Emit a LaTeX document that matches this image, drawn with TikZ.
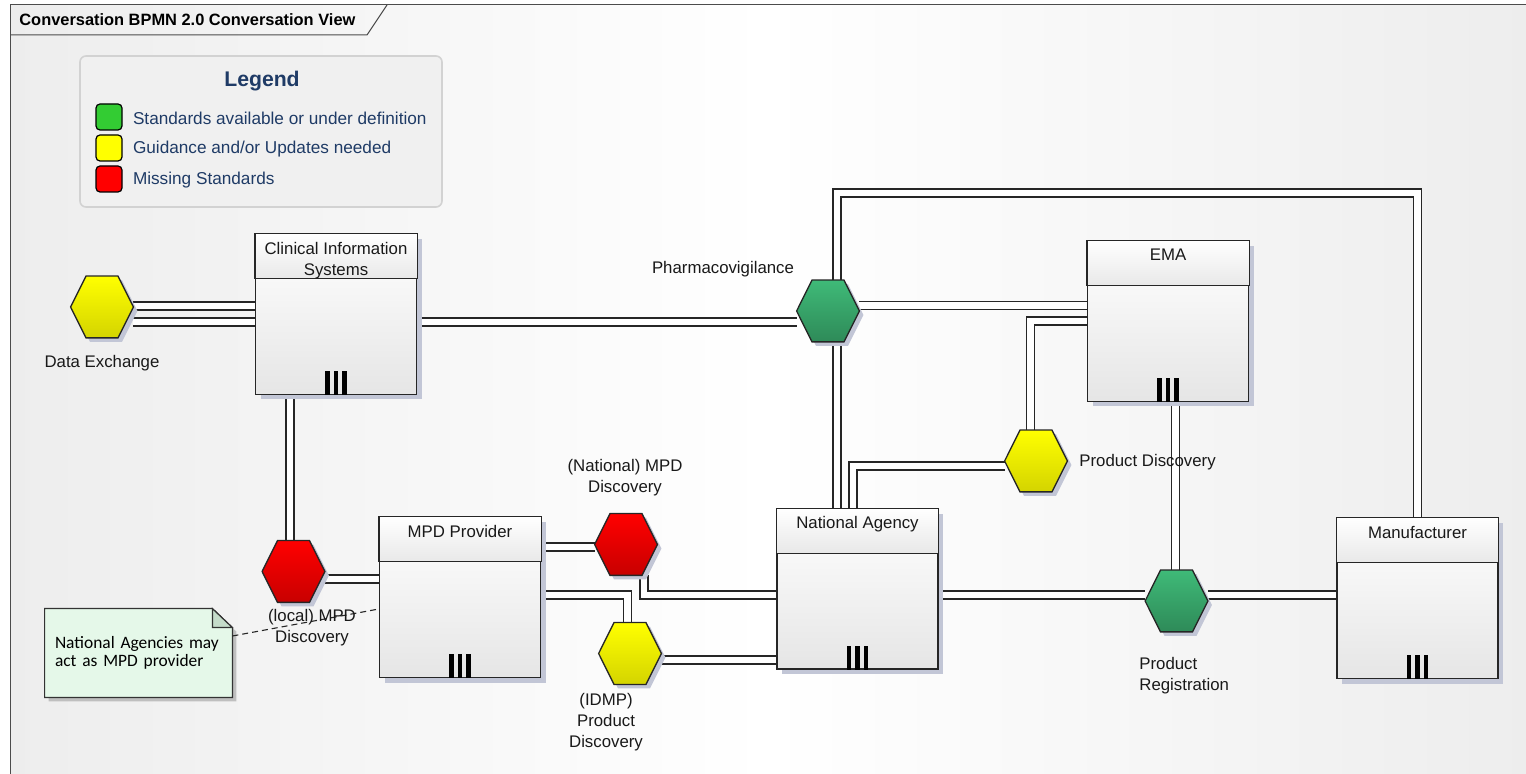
\documentclass[tikz,border=0pt]{standalone}
\usepackage{fontspec}
\setmainfont{Liberation Sans}
\newfontfamily\notefont{Carlito}
\usetikzlibrary{calc}
\usetikzlibrary{shadows}
\usetikzlibrary{backgrounds}

\definecolor{keygreen}{HTML}{33CC33}
\definecolor{keyyellow}{HTML}{FFFF00}
\definecolor{keyred}{HTML}{FF0000}
\definecolor{hexgreen}{HTML}{3FBA78}
\definecolor{hexgreendk}{HTML}{2E8A58}
\definecolor{hexyellow}{HTML}{FFFF00}
\definecolor{hexyellowdk}{HTML}{D4D400}
\definecolor{hexred}{HTML}{FF0000}
\definecolor{hexreddk}{HTML}{C80000}
\definecolor{legendfill}{HTML}{F0F0F0}
\definecolor{legendline}{HTML}{D2D2D2}
\definecolor{legendtext}{HTML}{1F3B66}
\definecolor{shadowcol}{HTML}{C2C6D6}
\definecolor{notefill}{HTML}{E5F8E9}
\definecolor{notefold}{HTML}{C5DCCA}

\tikzset{
  lbl/.style={font=\fontsize{8.4}{10.5}\selectfont, inner sep=0pt, align=center, text=black!90},
  conv/.style={draw=black!85, line width=0.65pt, double=white, double distance=3.3pt},
  pool/.style={draw=black!85, line width=0.65pt, minimum width=80.5pt, minimum height=80pt,
    inner sep=0pt, top color=white, bottom color=black!10,
    drop shadow={shadow xshift=2.5pt, shadow yshift=-2.5pt, fill=shadowcol, opacity=1}},
  poolhead/.style={draw=black!85, line width=0.65pt, top color=white, bottom color=black!9},
  hexbox/.style={minimum width=31pt, minimum height=30.5pt, inner sep=0pt},
  hexline/.style={draw=black!85, line width=0.65pt,
    drop shadow={shadow xshift=2pt, shadow yshift=-2pt, fill=shadowcol, opacity=1}},
  legendbox/.style={draw=legendline, fill=legendfill, line width=0.8pt, rounded corners=3pt,
    minimum width=181pt, minimum height=75.5pt},
  swatch/.style={draw=black, line width=0.6pt, rounded corners=2pt, minimum size=13pt, inner sep=0pt},
  legendlbl/.style={font=\fontsize{8.6}{10.5}\selectfont, text=legendtext, inner sep=0pt, anchor=west},
  notebox/.style={font=\notefont\fontsize{8.7}{9.2}\selectfont, text width=83.5pt, align=left,
    inner sep=5pt, minimum height=44pt},
  noteline/.style={draw=black!80, line width=0.6pt, fill=notefill,
    drop shadow={shadow xshift=2pt, shadow yshift=-2pt, fill=black!25, opacity=1}},
  notelink/.style={draw=black!85, line width=0.55pt, dash pattern=on 3pt off 2pt},
  frameline/.style={draw=black!70, line width=0.5pt},
}

% pool with header, name / centre / title
\newcommand{\poolbox}[3]{%
  \node[pool] (#1) at (#2) {};
  \draw[poolhead] (#1.north west) rectangle ($(#1.north east)+(0,45)$);
  \node[lbl, anchor=north] at ($(#1.north)+(0,8)$) {#3};
  \foreach \bx in {-8.5,0,8.5}
    \fill[black] ($(#1.south)+(\bx-2.25,0)$) rectangle ($(#1.south)+(\bx+2.25,-24)$);
}

% conversation hexagon, name / centre / top colour / bottom colour
\newcommand{\convnode}[4]{%
  \node[hexbox] (#1) at (#2) {};
  \draw[hexline, top color=#3, bottom color=#4]
    (#1.west) -- ($(#1.north)+(-16,0)$) -- ($(#1.north)+(16,0)$) -- (#1.east)
    -- ($(#1.south)+(16,0)$) -- ($(#1.south)+(-16,0)$) -- cycle;
}

\begin{document}
\begin{tikzpicture}[x=0.5pt, y=-0.5pt]
\useasboundingbox (0,0) rectangle (1526,774);

\node[anchor=west, inner sep=0pt, font=\bfseries\fontsize{8.2}{10}\selectfont] (title) at (19,20)
  {Conversation BPMN 2.0 Conversation View};

% legend
\node[legendbox] (legend) at (261,131.5) {};
\node[font=\bfseries\fontsize{10.6}{12}\selectfont, text=legendtext, inner sep=0pt] (legendtitle) at (262,81) {Legend};
\node[swatch, fill=keygreen] (kgreen) at (109,117) {};
\node[swatch, fill=keyyellow] (kyellow) at (109,148) {};
\node[swatch, fill=keyred] (kred) at (109,179) {};
\node[legendlbl] at ($(kgreen.east)+(10,1)$) {Standards available or under definition};
\node[legendlbl] at ($(kyellow.east)+(10,1)$) {Guidance and/or Updates needed};
\node[legendlbl] at ($(kred.east)+(10,1)$) {Missing Standards};

% participants
\poolbox{cis}{336,314.5}{Clinical Information\\Systems}
\poolbox{mpd}{460,597.5}{MPD Provider}
\poolbox{na}{857.5,589}{National Agency}
\poolbox{ema}{1168,321.5}{EMA}
\poolbox{mfr}{1417.5,598.5}{Manufacturer}

% conversations
\convnode{dx}{102,307}{hexyellow}{hexyellowdk}
\convnode{pv}{828,311}{hexgreen}{hexgreendk}
\convnode{pd}{1036,461}{hexyellow}{hexyellowdk}
\convnode{lmpd}{293.5,571.5}{hexred}{hexreddk}
\convnode{nmpd}{626,544.5}{hexred}{hexreddk}
\convnode{idmp}{630,653.5}{hexyellow}{hexyellowdk}
\convnode{pr}{1176.5,601}{hexgreen}{hexgreendk}

\node[lbl] at ($(dx)+(0,56)$) {Data Exchange};
\node[lbl] at ($(pv)+(-105,-42)$) {Pharmacovigilance};
\node[lbl, anchor=west] at ($(pd)+(43,1)$) {Product Discovery};
\node[lbl] at ($(lmpd)+(18.5,56.5)$) {(local) MPD\\Discovery};
\node[lbl] at ($(nmpd)+(-1,-67)$) {(National) MPD\\Discovery};
\node[lbl] at ($(idmp)+(-24,68.5)$) {(IDMP)\\Product\\Discovery};
\node[lbl, anchor=west, align=left] at ($(pr)+(-37.5,75)$) {Product\\Registration};

\node[notebox] (note) at (138.5,653) {National Agencies may\\act as MPD provider};

\begin{scope}[on background layer]
  \fill[left color=black!7, right color=black!7, middle color=white] (10,5) rectangle (1526,774);
  \draw[frameline] (1526,5) -- (10,5) -- (10,774);
  \draw[frameline] (10,35) -- (367,35) -- (387,5);

  \draw[noteline] (note.north west) -- ($(note.north east)+(-20,0)$) -- ($(note.north east)+(0,19)$)
    -- (note.south east) -- (note.south west) -- cycle;
  \draw[draw=black!80, line width=0.6pt, fill=notefold] ($(note.north east)+(-20,0)$)
    -- ($(note.north east)+(-20,19)$) -- ($(note.north east)+(0,19)$) -- cycle;
  \draw[notelink] ($(note.east)+(0,-17)$) -- ($(mpd.west)+(0,11.5)$);

  \draw[conv] ($(dx.east)+(0,-1)$) -- ($(cis.west)+(0,-8.5)$);
  \draw[conv] ($(dx.east)+(0,15)$) -- ($(cis.west)+(0,7.5)$);
  \draw[conv] ($(cis.east)+(0,7.5)$) -- ($(pv.west)+(0,11)$);
  \draw[conv] ($(cis.south)+(-46,0)$) -- ($(lmpd.north)+(-3.5,0)$);
  \draw[conv] ($(lmpd.east)+(0,7.5)$) -- ($(mpd.west)+(0,-18.5)$);
  \draw[conv] ($(mpd.east)+(0,-50.5)$) -- ($(nmpd.west)+(0,2.5)$);
  \draw[conv] ($(mpd.east)+(0,-2.5)$) -| ($(idmp.north)+(-2.5,0)$);
  \draw[conv] ($(nmpd.south)+(18,0)$) |- ($(na.west)+(0,6)$);
  \draw[conv] ($(idmp.east)+(0,6.5)$) -- ($(na.west)+(0,71)$);
  \draw[conv] ($(pv.south)+(9,0)$) -- ($(na.north)+(-20.5,0)$);
  \draw[conv] ($(pv.north)+(9,0)$) -- ++(0,-87) -| (mfr.north);
  \draw[conv] ($(pv.east)+(0,-5.5)$) -- ($(ema.west)+(0,-16)$);
  \draw[conv] ($(ema.west)+(0,-0.5)$) -| ($(pd.north)+(-5.5,0)$);
  \draw[conv] ($(pd.west)+(0,5)$) -| ($(na.north)+(-4.5,0)$);
  \draw[conv] ($(ema.south)+(7.5,0)$) -- ($(pr.north)+(-1,0)$);
  \draw[conv] ($(na.east)+(0,6)$) -- ($(pr.west)+(0,-6)$);
  \draw[conv] ($(pr.east)+(0,-6)$) -- ($(mfr.west)+(0,-3.5)$);
\end{scope}
\end{tikzpicture}
\end{document}
